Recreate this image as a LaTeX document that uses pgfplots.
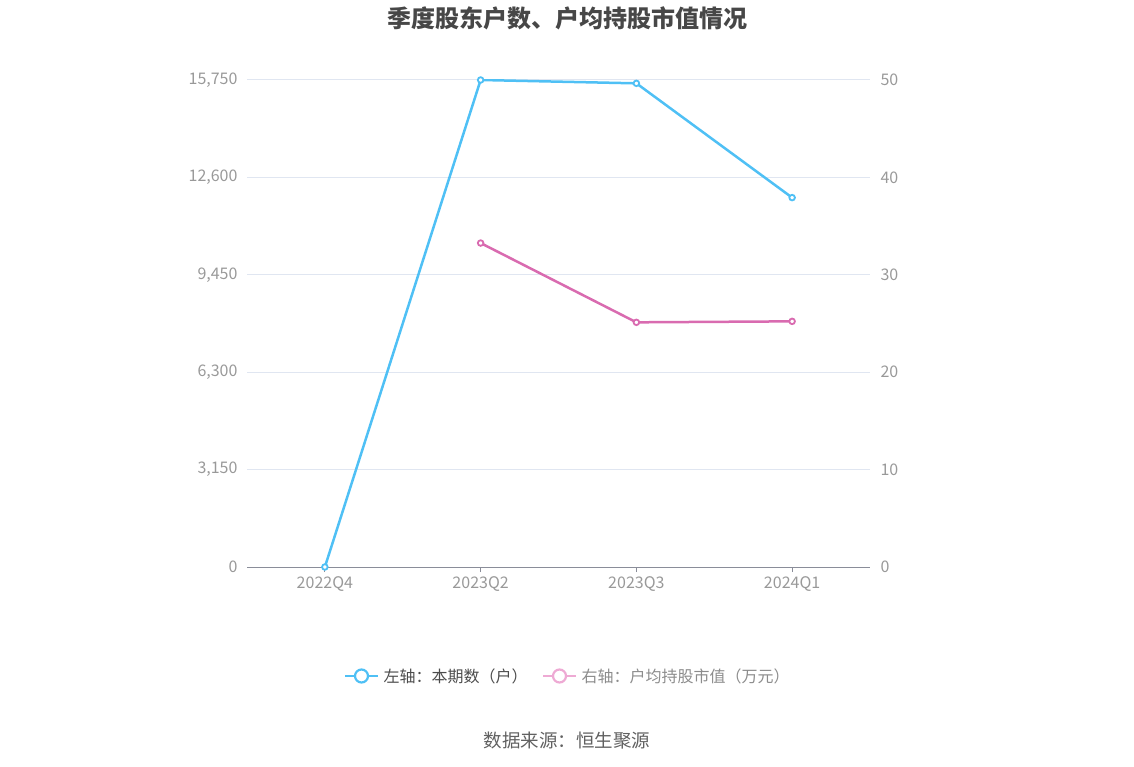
\documentclass[border=0pt]{standalone}
\usepackage{pgfplots}
\pgfplotsset{compat=1.18}
\usepackage{fontspec}
\setmainfont{Noto Sans CJK SC}
\definecolor{blueline}{HTML}{4FC0F5}
\definecolor{pinkline}{HTML}{D96BB0}
\definecolor{pinklight}{HTML}{EEAAD4}
\definecolor{gridc}{HTML}{E0E6F1}
\definecolor{axisc}{HTML}{8A8D99}
\definecolor{tickc}{HTML}{999999}
\begin{document}
\begin{tikzpicture}
\path[use as bounding box] (0pt,0pt) rectangle (1134pt,766pt);
\pgfplotsset{
  base/.style={
    at={(247pt,199pt)}, anchor=south west,
    scale only axis, width=623pt, height=487pt,
    xmin=-0.5, xmax=3.5,
    ymin=0,
    axis line style={draw=none},
    tick label style={font=\fontsize{16}{18}\selectfont, text=tickc},
    /pgf/number format/assume math mode=true,
    scaled y ticks=false,
    major tick length=5pt, tick align=outside,
    ytick style={draw=none},
    xtick style={axisc, line width=1pt},
    xtick pos=bottom,
  }
}
\begin{axis}[base,
  ymax=15750,
  ytick={0,3150,6300,9450,12600,15750},
  yticklabels={0,{3,150},{6,300},{9,450},{12,600},{15,750}},
  ymajorgrids, grid style={gridc, line width=1pt},
  yticklabel style={xshift=-1pt},
  xtick={0,1,2,3},
  xticklabels={2022Q4,2023Q2,2023Q3,2024Q1},
  xticklabel style={yshift=-1pt},
]
\draw[axisc, line width=1pt] (axis cs:-0.5,0) -- (axis cs:3.5,0);
\addplot[blueline, line width=2.5pt, mark=*, mark size=2.8pt,
  mark options={fill=white, draw=blueline, line width=1.8pt}] coordinates {
  (0,0) (1,15750) (2,15642) (3,11946)
};
\end{axis}
\begin{axis}[base,
  ymax=50,
  ytick={0,10,20,30,40,50},
  axis y line*=right,
  axis x line=none,
  xtick=\empty,
  yticklabel style={xshift=2pt},
]
\addplot[pinkline, line width=2.5pt, mark=*, mark size=2.8pt,
  mark options={fill=white, draw=pinkline, line width=1.8pt}] coordinates {
  (1,33.26) (2,25.12) (3,25.22)
};
\end{axis}
\node[font=\fontsize{24}{28}\selectfont\bfseries, text=black!72] at (567pt,748pt) {季度股东户数、户均持股市值情况};
% legend
\draw[blueline, line width=2.5pt] (345pt,90pt) -- (378pt,90pt);
\draw[blueline, fill=white, line width=2.2pt] (361.5pt,90pt) circle (6.5pt);
\node[anchor=west, font=\fontsize{16}{19}\selectfont, text=black!70] at (380pt,90pt) {左轴：本期数（户）};
\draw[pinklight, line width=2.5pt] (543pt,90pt) -- (576pt,90pt);
\draw[pinklight, fill=white, line width=2.2pt] (559.5pt,90pt) circle (6.5pt);
\node[anchor=west, font=\fontsize{16}{19}\selectfont, text=black!45] at (578pt,90pt) {右轴：户均持股市值（万元）};
\node[font=\fontsize{18.5}{22}\selectfont, text=black!62] at (567pt,25pt) {数据来源：恒生聚源};
\end{tikzpicture}
\end{document}
